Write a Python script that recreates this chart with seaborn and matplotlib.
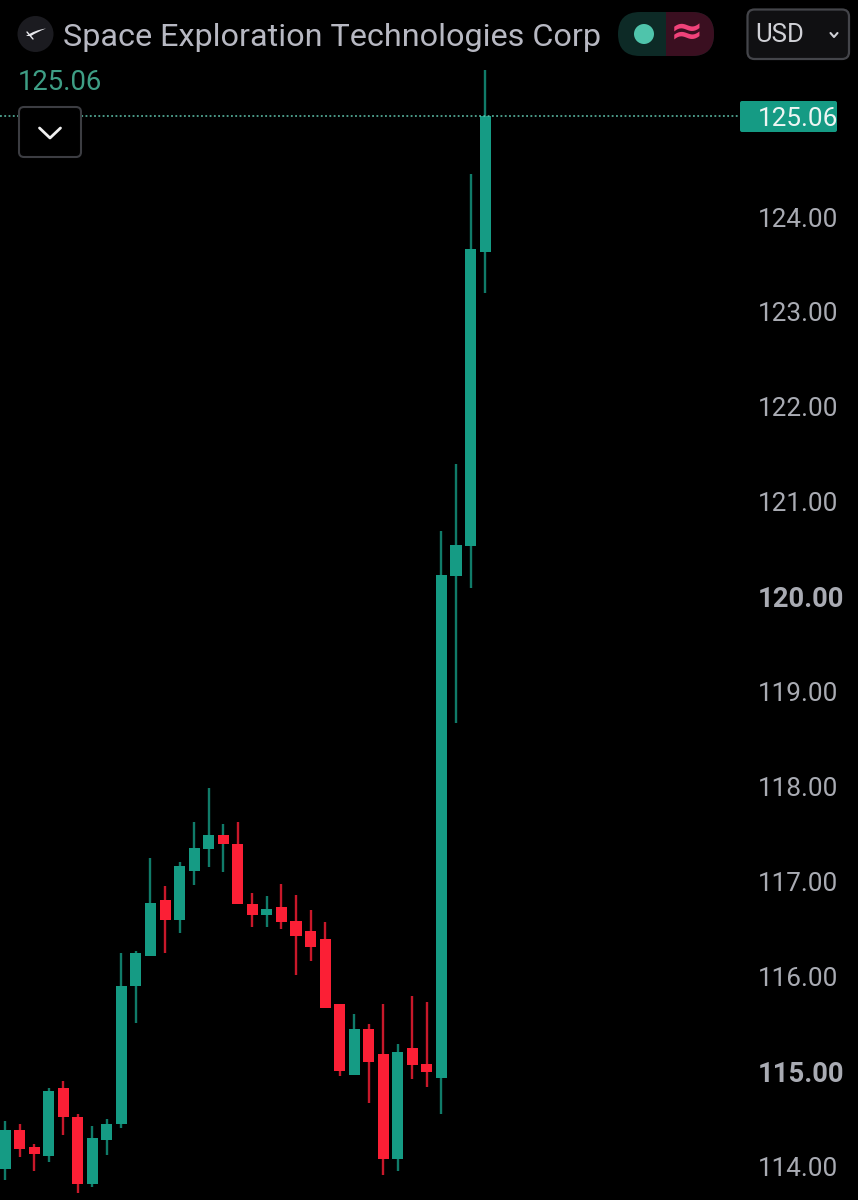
import numpy as np
import pandas as pd
import seaborn as sns
import matplotlib
matplotlib.use("Agg")
import matplotlib.pyplot as plt
from matplotlib.patches import FancyBboxPatch, Circle, Rectangle
from matplotlib.path import Path
from matplotlib.patches import PathPatch

# OHLC values
opens = [113.97,114.38,114.20,114.11,114.82,114.52,113.81,114.27,114.44,115.90,116.21,116.80,116.59,117.11,117.34,117.49,117.39,
         116.76,116.64,116.73,116.58,116.48,116.39,115.71,114.96,115.44,115.18,114.07,115.24,115.07,114.93,120.22,120.53,123.63]
closes = [114.38,114.18,114.13,114.79,114.52,113.81,114.30,114.44,115.90,116.24,116.77,116.59,117.16,117.35,117.49,117.39,116.76,
          116.64,116.71,116.57,116.42,116.31,115.66,115.00,115.44,115.10,114.07,115.20,115.06,114.99,120.23,120.54,123.66,125.06]
highs = [114.47,114.44,114.23,114.82,114.90,114.55,114.42,114.50,116.24,116.27,117.25,116.95,117.20,117.62,117.98,117.60,117.62,
         116.88,116.85,116.97,116.86,116.70,116.57,115.71,115.60,115.50,115.71,115.29,115.79,115.73,120.69,121.40,124.45,125.55]
lows = [113.85,114.09,113.95,114.04,114.33,113.72,113.78,114.12,114.40,115.51,116.21,116.24,116.46,116.96,117.15,117.10,116.76,
        116.52,116.52,116.50,116.01,116.16,115.66,114.95,114.96,114.66,113.91,113.95,114.92,114.83,114.55,118.67,120.09,123.20]
last_price = 125.06
price_ticks = [114, 115, 116, 117, 118, 119, 120, 121, 122, 123, 124]
bold_ticks = [115, 120]
green_wick_candles = [15]
title = "Space Exploration Technologies Corp"
currency = "USD"

GREEN, RED = "#159b84", "#fb1f35"
BG = "#000000"
FONT = "Roboto"

sns.set_theme(style="dark", rc={"axes.facecolor": BG, "figure.facecolor": BG, "axes.grid": False})
plt.rcParams["font.family"] = [FONT, "DejaVu Sans"]

df = pd.DataFrame({"i": range(len(opens)), "o": opens, "c": closes, "h": highs, "l": lows})
df["bottom"] = df[["o", "c"]].min(axis=1)
df["body"] = (df["c"] - df["o"]).abs()
df["dir"] = np.where(df["c"] >= df["o"], "up", "down")
palette = {"up": GREEN, "down": RED}

fig = plt.figure(figsize=(8.58, 12), dpi=100)
ax = fig.add_axes([0, 0, 1, 1])

for d, g in df.groupby("dir"):
    wick_colors = [GREEN if i in green_wick_candles else palette[d] for i in g["i"]]
    ax.vlines(g["i"], g["l"], g["h"], color=wick_colors, lw=1.7, alpha=0.8, zorder=1)
    sns.barplot(data=g, x="i", y="body", color=palette[d], bottom=g["bottom"].to_numpy(),
                native_scale=True, width=0.76, saturation=1, errorbar=None,
                linewidth=0, edgecolor="none", ax=ax, zorder=2)

ax.set_xlim(-0.344, 58.63)
ax.set_ylim(113.642, 126.287)
ax.set_xlabel(""); ax.set_ylabel("")
ax.set_xticks([])
ax.yaxis.tick_right()
ax.set_yticks(price_ticks)
ax.set_yticklabels([f"{t:.2f}" for t in price_ticks])
ax.tick_params(axis="y", length=0, pad=-72, labelsize=18.8, labelcolor="#a9abb3")
for lab, t in zip(ax.get_yticklabels(), price_ticks):
    lab.set_fontfamily(FONT)
    if t in bold_ticks:
        lab.set_fontweight("bold")
        lab.set_fontsize(19.8)
for s in ax.spines.values():
    s.set_visible(False)

# last-price line, in data coordinates
ax.plot([-0.344, 50.5], [last_price, last_price], color="#5fc4ad", lw=1.1, ls=(0, (1.2, 1.6)), zorder=3)

# interface chrome, in pixel coordinates
ui = fig.add_axes([0, 0, 1, 1], facecolor="none")
ui.set_xlim(0, 858); ui.set_ylim(1200, 0); ui.axis("off")

def rbox(x0, y0, x1, y1, r, fc, ec="none", lw=0, z=5):
    ui.add_patch(FancyBboxPatch((x0 + r, y0 + r), x1 - x0 - 2 * r, y1 - y0 - 2 * r,
                                boxstyle=f"round,pad={r},rounding_size={r}", fc=fc, ec=ec, lw=lw, zorder=z))

# logo
ui.add_patch(Circle((35.5, 34), 18, fc="#1b1b20", ec="none"))
ui.add_patch(PathPatch(Path([(26, 36), (35, 30), (46, 28.5), (37, 32), (31, 36), (26, 36)],
                            [Path.MOVETO, Path.CURVE3, Path.CURVE3, Path.CURVE3, Path.CURVE3, Path.CLOSEPOLY]),
                       fc="#e8e8ec", ec="none", zorder=6))
ui.plot([27, 33], [32, 39], color="#e8e8ec", lw=1, zorder=6)
ui.text(63, 37, title, color="#b7b8c2", fontsize=23.3, va="center", ha="left")

# status pill
pill = FancyBboxPatch((640, 34), 52, 0, boxstyle="round,pad=22,rounding_size=22", fc="#0d2a26", ec="none", zorder=5)
ui.add_patch(pill)
clip = Rectangle((666, 0), 60, 70, transform=ui.transData)
pill2 = FancyBboxPatch((640, 34), 52, 0, boxstyle="round,pad=22,rounding_size=22", fc="#3a0f20", ec="none", zorder=6)
ui.add_patch(pill2); pill2.set_clip_path(clip)
ui.add_patch(Circle((644, 34), 10, fc="#4fc4ab", ec="none", zorder=7))
ui.text(686.5, 34, "≈", color="#f0427a", fontsize=29, fontweight="bold", ha="center", va="center",
        family="DejaVu Sans", zorder=7)

# currency box
rbox(747.5, 9.5, 849, 59, 7, "#101012", "#44454a", 1.6)
ui.text(755, 35, currency, color="#d0d1d6", fontsize=18.5, va="center", ha="left", zorder=6)
ui.plot([830.5, 834, 837.5], [33, 37, 33], color="#d0d1d6", lw=1.5, zorder=6)

# last-price labels
ui.text(18, 82, f"{last_price:.2f}", color="#3e9e85", fontsize=19.8, va="center", ha="left")
rbox(740, 101, 837, 132, 2, GREEN, z=6)
ui.text(798, 119, f"{last_price:.2f}", color="#eef5f3", fontsize=18.8, va="center", ha="center", zorder=7)

# collapse button
rbox(19, 107, 81, 157, 5, BG, "#3c3d42", 1.5)
ui.plot([39.5, 50, 60.5], [128, 138, 128], color="#f0f0f0", lw=2, zorder=6)

fig.savefig("out.png", dpi=100, facecolor=BG)
